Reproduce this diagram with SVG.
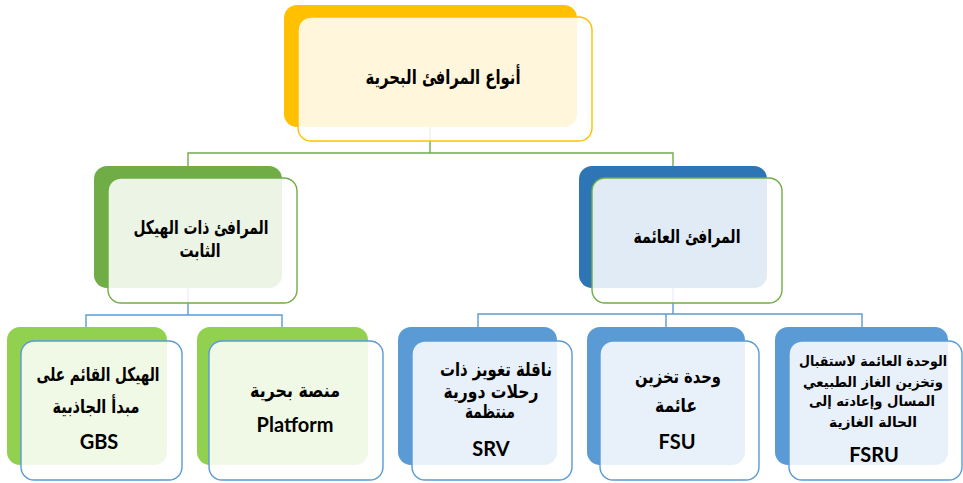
<svg xmlns="http://www.w3.org/2000/svg" width="963" height="483" viewBox="0 0 963 483">
  <style>
    .front { fill: #ffffff; fill-opacity: 0.86; stroke-width: 1.4; }
    .ar { font-family: "DejaVu Sans", "Noto Sans", sans-serif; font-weight: bold; text-anchor: middle; fill: #000000; }
    .en { font-family: Lato, "Open Sans", sans-serif; font-weight: bold; text-anchor: middle; fill: #000000; }
    .green-line { fill: none; stroke: #70AD47; stroke-width: 1.4; }
    .blue-line { fill: none; stroke: #5B9BD5; stroke-width: 1.4; }
  </style>

  <!-- connectors -->
  <g id="connectors">
    <path class="green-line" d="M430,127 V153 M188,166 V153 H673 V166"/>
    <path class="blue-line" d="M188,288 V315 M86,327 V315 H282 V327"/>
    <path class="blue-line" d="M673,288 V314 M478,327 V314 H862 V327 M666,314 V327"/>
  </g>

  <!-- root -->
  <g id="root">
    <rect x="284" y="5" width="293" height="122" rx="13" fill="#FFC000"/>
    <rect class="front" x="298" y="17" width="294" height="124" rx="13" stroke="#FFC000"/>
    <text class="ar" x="443" y="84" font-size="20" textLength="155" lengthAdjust="spacingAndGlyphs">أنواع المرافئ البحرية</text>
  </g>

  <!-- fixed structures -->
  <g id="fixed">
    <rect x="94" y="166" width="188" height="122" rx="13" fill="#70AD47"/>
    <rect class="front" x="108" y="178" width="189" height="125" rx="13" stroke="#70AD47"/>
    <text class="ar" x="201" y="234" font-size="19" textLength="135" lengthAdjust="spacingAndGlyphs">المرافئ ذات الهيكل</text>
    <text class="ar" x="200" y="257" font-size="19" textLength="41" lengthAdjust="spacingAndGlyphs">الثابت</text>
  </g>

  <!-- floating structures -->
  <g id="floating">
    <rect x="579" y="166" width="188" height="122" rx="13" fill="#2E75B6"/>
    <rect class="front" x="592" y="178" width="190" height="125" rx="13" stroke="#70AD47"/>
    <text class="ar" x="687" y="243" font-size="19" textLength="107" lengthAdjust="spacingAndGlyphs">المرافئ العائمة</text>
  </g>

  <!-- GBS -->
  <g id="gbs">
    <rect x="7" y="327" width="160" height="138" rx="13" fill="#92D050"/>
    <rect class="front" x="21" y="341" width="161" height="139" rx="13" stroke="#5B9BD5"/>
    <text class="ar" x="98" y="381" font-size="19" textLength="123" lengthAdjust="spacingAndGlyphs">الهيكل القائم على</text>
    <text class="ar" x="96" y="413" font-size="19" textLength="87" lengthAdjust="spacingAndGlyphs">مبدأ الجاذبية</text>
    <text class="en" x="99" y="449" font-size="20">GBS</text>
  </g>

  <!-- Platform -->
  <g id="platform">
    <rect x="197" y="327" width="171" height="138" rx="13" fill="#92D050"/>
    <rect class="front" x="209" y="341" width="174" height="139" rx="13" stroke="#5B9BD5"/>
    <text class="ar" x="295" y="397" font-size="19" textLength="90" lengthAdjust="spacingAndGlyphs">منصة بحرية</text>
    <text class="en" x="295" y="432" font-size="20">Platform</text>
  </g>

  <!-- SRV -->
  <g id="srv">
    <rect x="398" y="327" width="159" height="138" rx="13" fill="#5B9BD5"/>
    <rect class="front" x="412" y="341" width="160" height="139" rx="13" stroke="#5B9BD5"/>
    <text class="ar" x="496" y="376" font-size="19" textLength="112" lengthAdjust="spacingAndGlyphs">ناقلة تغويز ذات</text>
    <text class="ar" x="491" y="398" font-size="19" textLength="95" lengthAdjust="spacingAndGlyphs">رحلات دورية</text>
    <text class="ar" x="490" y="418" font-size="19" textLength="50" lengthAdjust="spacingAndGlyphs">منتظمة</text>
    <text class="en" x="491" y="456" font-size="20">SRV</text>
  </g>

  <!-- FSU -->
  <g id="fsu">
    <rect x="587" y="327" width="158" height="138" rx="13" fill="#5B9BD5"/>
    <rect class="front" x="600" y="341" width="159" height="139" rx="13" stroke="#5B9BD5"/>
    <text class="ar" x="678" y="383" font-size="19" textLength="86" lengthAdjust="spacingAndGlyphs">وحدة تخزين</text>
    <text class="ar" x="676" y="412" font-size="19" textLength="42" lengthAdjust="spacingAndGlyphs">عائمة</text>
    <text class="en" x="677" y="449" font-size="20">FSU</text>
  </g>

  <!-- FSRU -->
  <g id="fsru">
    <rect x="775" y="327" width="173" height="138" rx="13" fill="#5B9BD5"/>
    <rect class="front" x="789" y="341" width="173" height="139" rx="13" stroke="#5B9BD5"/>
    <text class="ar" x="873" y="366" font-size="14" textLength="148" lengthAdjust="spacingAndGlyphs">الوحدة العائمة لاستقبال</text>
    <text class="ar" x="873" y="387" font-size="14" textLength="140" lengthAdjust="spacingAndGlyphs">وتخزين الغاز الطبيعي</text>
    <text class="ar" x="872" y="406" font-size="14" textLength="126" lengthAdjust="spacingAndGlyphs">المسال وإعادته إلى</text>
    <text class="ar" x="873" y="427" font-size="14" textLength="88" lengthAdjust="spacingAndGlyphs">الحالة الغازية</text>
    <text class="en" x="874" y="462" font-size="20">FSRU</text>
  </g>
</svg>
